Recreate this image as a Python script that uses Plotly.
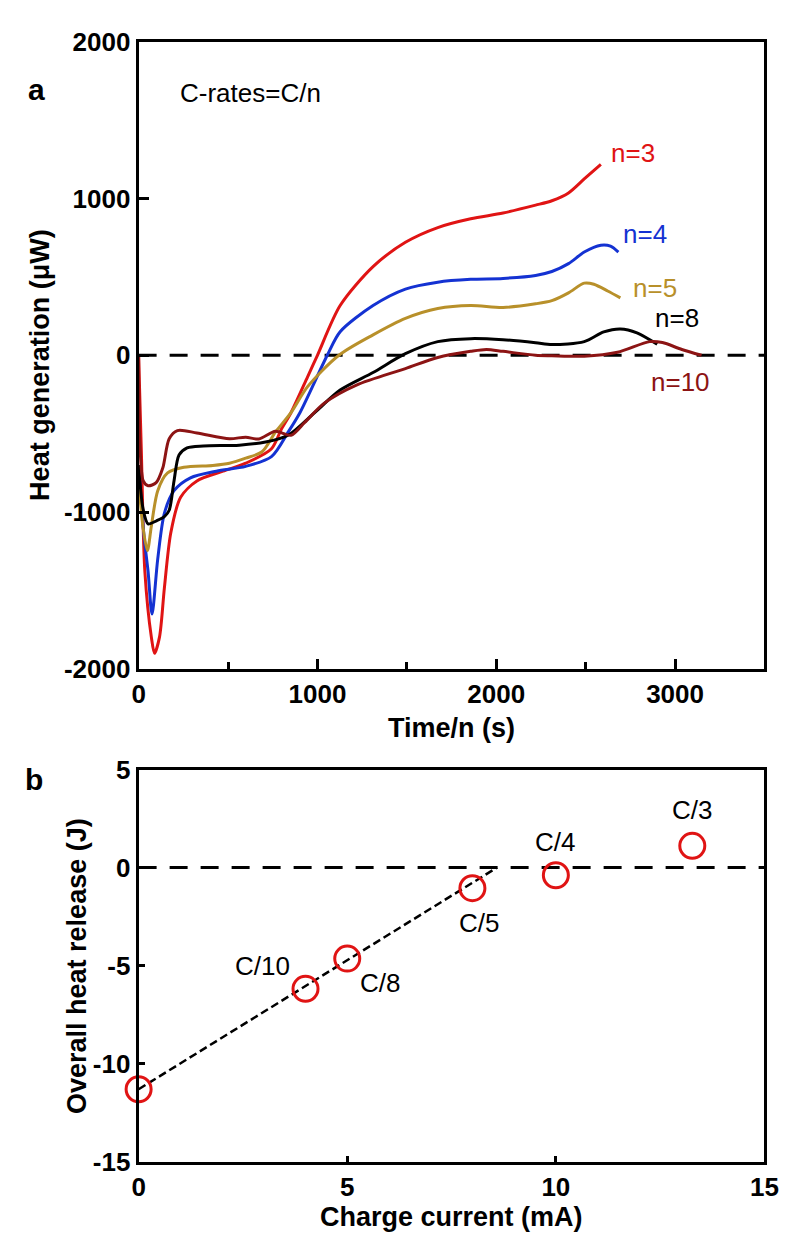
import plotly.graph_objects as go

# ---------------- Panel a data ----------------
t3 = [0, 15, 35, 71, 89, 117, 144, 180, 235, 326, 472, 599, 743, 798, 852, 945, 1000, 1127, 1311, 1492, 1673, 1857, 2038, 2220, 2311, 2404, 2492, 2585]
h3 = [0, -600, -1380, -1795, -1900, -1795, -1484, -1131, -905, -801, -739, -688, -596, -472, -366, -137, 0, 317, 565, 720, 814, 870, 907, 957, 985, 1035, 1124, 1217]

t4 = [0, 30, 53, 75, 107, 144, 198, 290, 435, 599, 743, 836, 902, 1055, 1127, 1311, 1492, 1673, 1857, 2038, 2220, 2311, 2404, 2492, 2585, 2639, 2683]
h4 = [-700, -1150, -1380, -1650, -1298, -1008, -863, -781, -739, -708, -646, -490, -366, 0, 150, 317, 422, 466, 484, 490, 509, 534, 584, 658, 702, 696, 658]

t5 = [0, 25, 49, 71, 107, 162, 253, 415, 508, 599, 690, 765, 852, 945, 1120, 1311, 1492, 1673, 1857, 2038, 2220, 2311, 2404, 2492, 2546, 2623, 2694]
h5 = [-800, -1100, -1246, -1091, -863, -750, -714, -702, -688, -656, -615, -490, -366, -200, 0, 130, 235, 298, 317, 305, 328, 348, 398, 460, 453, 410, 366]

t8 = [0, 25, 53, 100, 144, 171, 198, 226, 271, 362, 563, 710, 836, 983, 1127, 1311, 1492, 1673, 1857, 2038, 2220, 2311, 2492, 2601, 2694, 2787, 2900]
h8 = [-700, -980, -1075, -1055, -1029, -988, -801, -636, -590, -578, -573, -553, -510, -367, -222, -110, 10, 87, 106, 99, 80, 68, 87, 149, 168, 143, 70]

t10 = [0, 7, 26, 53, 98, 135, 171, 217, 326, 508, 599, 672, 765, 852, 929, 1038, 1218, 1492, 1673, 1857, 1945, 2038, 2220, 2311, 2492, 2678, 2858, 2929, 3038, 3148]
h10 = [0, -553, -801, -832, -812, -719, -532, -480, -495, -532, -522, -534, -485, -510, -428, -305, -190, -85, -14, 25, 37, 25, 0, -3, -6, 19, 87, 81, 37, 0]

series_names = ["n=3", "n=4", "n=5", "n=8", "n=10"]
series_colors = ["#e01414", "#1432d2", "#b8902a", "#000000", "#8c1414"]
label_x = [2765, 2831, 2885, 3011, 3033]
label_y = [1292, 770, 429, 236, -168]

# ---------------- Panel b data ----------------
current_mA = [0, 4, 5, 8, 10, 13.27]
heat_J = [-11.3, -6.18, -4.64, -1.05, -0.39, 1.11]
rate_labels = ["", "C/10", "C/8", "C/5", "C/4", "C/3"]
rate_lx = [None, 2.98, 5.79, 8.16, 9.97, 13.27]
rate_ly = [None, -5.0, -5.89, -2.84, 1.30, 2.96]
fit_x = [0, 8.59]
fit_y = [-11.3, 0]

FONT = "Liberation Sans, Arial, sans-serif"
W, H = 788, 1242

fig = go.Figure()

curves = [(t3, h3), (t4, h4), (t5, h5), (t8, h8), (t10, h10)]
fig.add_trace(go.Scatter(x=[0, 3500], y=[0, 0], mode="lines",
                         line=dict(color="black", width=3, dash="18px,13px"),
                         xaxis="x", yaxis="y", showlegend=False))
for (tx, hy), nm, col in zip(curves, series_names, series_colors):
    fig.add_trace(go.Scatter(x=tx, y=hy, mode="lines", name=nm,
                             line=dict(color=col, width=3, shape="spline", smoothing=0.8),
                             xaxis="x", yaxis="y", showlegend=False))

# panel b
fig.add_trace(go.Scatter(x=[0, 15], y=[0, 0], mode="lines",
                         line=dict(color="black", width=3, dash="18px,13px"),
                         xaxis="x2", yaxis="y2", showlegend=False))
fig.add_trace(go.Scatter(x=fit_x, y=fit_y, mode="lines",
                         line=dict(color="black", width=2.5, dash="8px,4px"),
                         xaxis="x2", yaxis="y2", showlegend=False))
fig.add_trace(go.Scatter(x=current_mA, y=heat_J, mode="markers",
                         marker=dict(symbol="circle-open", size=25, color="#e01414",
                                     line=dict(width=3, color="#e01414")),
                         xaxis="x2", yaxis="y2", showlegend=False, cliponaxis=False))

annotations = []
for nm, col, lx, ly in zip(series_names, series_colors, label_x, label_y):
    annotations.append(dict(x=lx, y=ly, xref="x", yref="y", text=nm, showarrow=False,
                            font=dict(family=FONT, size=26, color=col)))
annotations.append(dict(x=219, y=1671, xref="x", yref="y", text="C-rates=C/n", showarrow=False,
                        xanchor="left", font=dict(family=FONT, size=26, color="black")))
for lab, lx, ly in zip(rate_labels, rate_lx, rate_ly):
    if lab:
        annotations.append(dict(x=lx, y=ly, xref="x2", yref="y2", text=lab, showarrow=False,
                                font=dict(family=FONT, size=26, color="black")))

def px(xp, yp):
    return xp / W, 1 - yp / H

for txt, xp, yp, ang, size in [("<b>a</b>", 22, 68, 0, 30), ("<b>b</b>", 20, 775, 0, 30),
                               ("<b>Time/n (s)</b>", 448, 722, 0, 27),
                               ("<b>Charge current (mA)</b>", 448, 1224, 0, 27),
                               ("<b>Heat generation (μW)</b>", 25, 350, -90, 27),
                               ("<b>Overall heat release (J)</b>", 63, 966, -90, 27)]:
    x_, y_ = px(xp, yp)
    annotations.append(dict(x=x_, y=y_, xref="paper", yref="paper", text=txt, showarrow=False,
                            textangle=ang, xanchor="center", yanchor="middle",
                            font=dict(family=FONT, size=size, color="black")))

axis_common = dict(showline=True, linecolor="black", linewidth=3, mirror=True, showgrid=False,
                   zeroline=False, tickfont=dict(family=FONT, size=26, color="black"))

x0, x1 = 127 / W, 770 / W
fig.update_layout(
    width=W, height=H, margin=dict(l=0, r=0, t=0, b=0),
    paper_bgcolor="white", plot_bgcolor="white",
    xaxis=dict(domain=[x0, x1], range=[0, 3500], tickvals=[0, 1000, 2000, 3000],
               ticktext=["<b>0</b>", "<b>1000</b>", "<b>2000</b>", "<b>3000</b>"],
               ticks="inside", ticklen=10, tickwidth=3, tickcolor="black",
               minor=dict(tickvals=[500, 1500, 2500], ticks="inside", ticklen=7, tickwidth=3, tickcolor="black"),
               anchor="y", **axis_common),
    yaxis=dict(domain=[1 - 662 / H, 1 - 19 / H], range=[-2000, 2000],
               tickvals=[-2000, -1000, 0, 1000, 2000],
               ticktext=["<b>-2000</b>", "<b>-1000</b>", "<b>0</b>", "<b>1000</b>", "<b>2000</b>"],
               ticks="inside", ticklen=10, tickwidth=3, tickcolor="black",
               anchor="x", **axis_common),
    xaxis2=dict(domain=[x0, x1], range=[0, 15], tickvals=[0, 5, 10, 15],
                ticktext=["<b>0</b>", "<b>5</b>", "<b>10</b>", "<b>15</b>"],
                ticks="inside", ticklen=6, tickwidth=3, tickcolor="black",
                anchor="y2", **axis_common),
    yaxis2=dict(domain=[1 - 1167 / H, 1 - 765 / H], range=[-15, 5],
                tickvals=[-15, -10, -5, 0, 5],
                ticktext=["<b>-15</b>", "<b>-10</b>", "<b>-5</b>", "<b>0</b>", "<b>5</b>"],
                ticks="inside", ticklen=6, tickwidth=3, tickcolor="black",
                anchor="x2", **axis_common),
    annotations=annotations,
)

fig.write_html("out.html")
